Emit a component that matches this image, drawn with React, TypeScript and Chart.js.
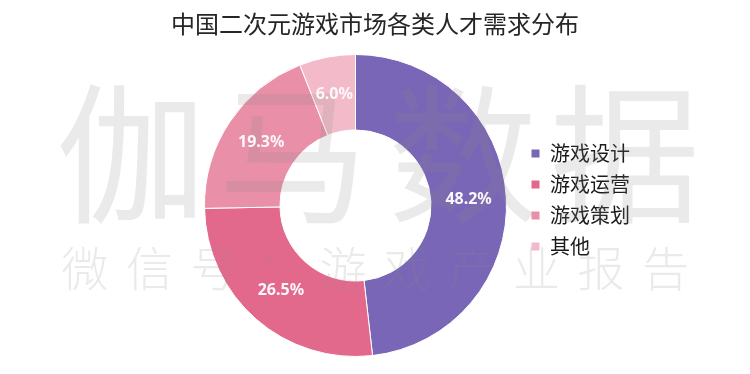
import React, { useEffect, useRef } from "react";
import { Chart, registerables } from "chart.js";

Chart.register(...registerables);

const TITLE = "中国二次元游戏市场各类人才需求分布";
const CATEGORIES = ["游戏设计", "游戏运营", "游戏策划", "其他"];
const VALUES = [48.2, 26.5, 19.3, 6.0];
const COLORS = ["#7966b6", "#e2698c", "#e98fa8", "#f3bbca"];
const WATERMARK_BIG = ["伽", "马", "数", "据"];
const WATERMARK_SMALL = ["微", "信", "号", "：", "游", "戏", "产", "业", "报", "告"];

const FONT = "'Noto Sans CJK SC', 'Noto Sans', sans-serif";

const titlePlugin = {
  id: "customTitle",
  afterDraw(chart: any) {
    const ctx = chart.ctx;
    ctx.save();
    ctx.font = `24px ${FONT}`;
    ctx.fillStyle = "#262626";
    ctx.textAlign = "center";
    ctx.textBaseline = "middle";
    ctx.fillText(TITLE, chart.width / 2, 24);
    ctx.restore();
  },
};

const watermarkAndLabels = {
  id: "wmLabels",
  afterDatasetsDraw(chart: any) {
    const ctx = chart.ctx;
    ctx.save();
    // watermark
    ctx.fillStyle = "rgba(140,140,140,0.18)";
    ctx.textAlign = "center";
    ctx.textBaseline = "middle";
    ctx.font = `150px ${FONT}`;
    const bigX = [131, 293, 463, 625];
    WATERMARK_BIG.forEach((c, i) => ctx.fillText(c, bigX[i], 154));
    ctx.font = `300 47px ${FONT}`;
    WATERMARK_SMALL.forEach((c, i) => ctx.fillText(c, 85 + i * 64.5, 268));
    // data labels
    const meta = chart.getDatasetMeta(0);
    ctx.font = `bold 16px 'Noto Sans', ${FONT}`;
    ctx.fillStyle = "#fbf7fb";
    meta.data.forEach((arc: any, i: number) => {
      const p = arc.tooltipPosition();
      ctx.fillText(VALUES[i].toFixed(1) + "%", p.x, p.y);
    });
    ctx.restore();
  },
};

export default function App() {
  const ref = useRef<HTMLCanvasElement>(null);
  useEffect(() => {
    if (!ref.current) return;
    const chart = new Chart(ref.current, {
      type: "doughnut",
      data: {
        labels: CATEGORIES,
        datasets: [
          {
            data: VALUES,
            backgroundColor: COLORS,
            borderColor: "#ffffff",
            borderWidth: 1,
          },
        ],
      },
      options: {
        responsive: false,
        devicePixelRatio: 1,
        animation: false,
        cutout: "50%",
        layout: { padding: { left: 191, right: 110, top: 54, bottom: 17 } },
        plugins: {
          title: { display: false },
          tooltip: { enabled: false },
          legend: {
            display: true,
            position: "right",
            title: {
              display: true,
              text: " ",
              font: { size: 1, lineHeight: 1 },
              padding: { top: -6, bottom: -6 },
            },
            labels: {
              boxWidth: 9,
              boxHeight: 9,
              padding: 11,
              color: "#1a1a1a",
              font: { size: 20, family: FONT },
            },
          },
        },
      },
      plugins: [watermarkAndLabels, titlePlugin],
    });
    return () => chart.destroy();
  }, []);
  return (
    <div style={{ position: "fixed", left: 0, top: 0, width: 750, height: 374, background: "#fff" }}>
      <canvas ref={ref} width={750} height={374} style={{ display: "block" }} />
    </div>
  );
}
